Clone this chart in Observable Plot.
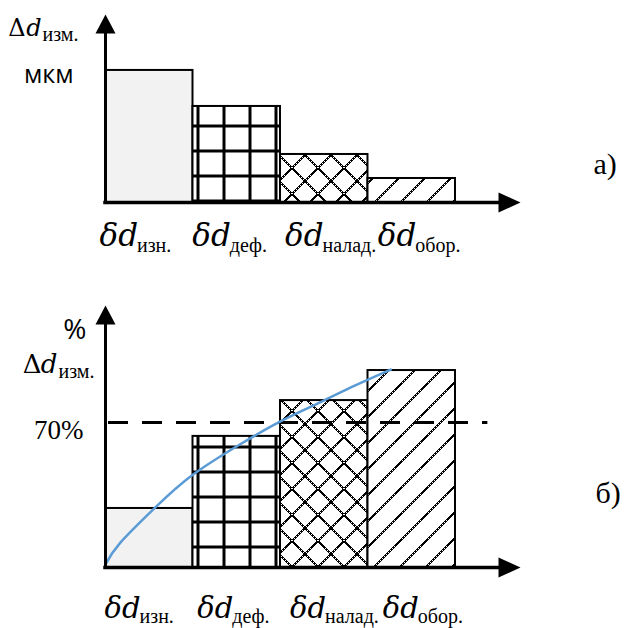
<!DOCTYPE html>
<html><head><meta charset="utf-8">
<script src="https://cdn.jsdelivr.net/npm/d3@7"></script>
<script src="https://cdn.jsdelivr.net/npm/@observablehq/plot@0.6"></script>
<style>
html,body{margin:0;padding:0;background:#fff;}
#chart svg{display:block;}
</style></head><body><div id="chart"></div>
<script>
// ---- data ----
const categories = ["изн.", "деф.", "налад.", "обор."];
const mainSymbol = "δd";
const valuesA = [5.5, 4, 2, 1];            // panel а), мкм (relative)
const valuesB = [28.5, 63.3, 80.6, 95.1];  // panel б), %
const curveX = [0, 0.17, 0.57, 0.99, 1.54, 2.0, 2.38, 2.77, 3.26];
const curveY = [1.5, 12, 29, 44.5, 59.5, 70.5, 78.3, 86.3, 95.6];
const thresholdB = 70;
const thresholdLabel = "70%";
const unitA = "мкм";
const unitB = "%";
const axisDelta = "Δ", axisD = "d", axisSub = "изм.";
const panelLabels = ["а)", "б)"];

const W = 626, xMax = 4.743;
const dataA = categories.map((c, i) => ({c, i, x1: i, x2: i + 1, v: valuesA[i]}));
const dataB = categories.map((c, i) => ({c, i, x1: i, x2: i + 1, v: valuesB[i]}));
const curve = curveX.map((x, i) => ({x, y: curveY[i]}));
const fillIds = ["gray", "grid", "cross", "diag"];

const MAIN_FONT = "DejaVu Serif", SUB_FONT = "Liberation Serif";
const SUB_SIZE = 20;
const labelSpread = 1.06; // category labels are spaced slightly wider than the bars
const mctx = document.createElement("canvas").getContext("2d");
function textW(s, font) { mctx.font = font; return mctx.measureText(s).width; }

const upTri = {draw(ctx) { ctx.moveTo(0, 0); ctx.lineTo(10, 19); ctx.lineTo(-10, 19); ctx.closePath(); }};
const rightTri = {draw(ctx) { ctx.moveTo(0, 0); ctx.lineTo(-22, -10); ctx.lineTo(-22, 10); ctx.closePath(); }};

function addPatterns(svg, s, gridY, crossY) {
  const defs = d3.select(svg).insert("defs", ":first-child");
  const pat = (id, w, h, x, y) => defs.append("pattern").attr("id", id + s)
    .attr("patternUnits", "userSpaceOnUse").attr("width", w).attr("height", h).attr("x", x).attr("y", y);
  const g0 = pat("gray", 10, 10, 0, 0);
  g0.append("rect").attr("width", 10).attr("height", 10).attr("fill", "#f2f2f2");
  const g = pat("grid", 26, 25, 14.5, gridY);
  g.append("rect").attr("width", 26).attr("height", 25).attr("fill", "#fff");
  g.append("rect").attr("width", 3).attr("height", 25).attr("fill", "#000");
  g.append("rect").attr("width", 26).attr("height", 3).attr("fill", "#000");
  const c = pat("cross", 26, 26, 6, crossY);
  c.append("rect").attr("width", 26).attr("height", 26).attr("fill", "#fff");
  c.append("path").attr("d", "M0,0L26,26M26,0L0,26").attr("stroke", "#000").attr("stroke-width", 2)
    .attr("stroke-dasharray", "2.2 0.6").attr("shape-rendering", "crispEdges");
  const d = pat("diag", 26, 26, 5, 0);
  d.append("rect").attr("width", 26).attr("height", 26).attr("fill", "#fff");
  d.append("path").attr("d", "M-2,2L2,-2M0,26L26,0M24,28L28,24").attr("stroke", "#000").attr("stroke-width", 2)
    .attr("stroke-dasharray", "2.2 0.6").attr("shape-rendering", "crispEdges");
}

function barMarks(data, s) {
  return data.map((d, i) => Plot.rect([d], {x1: "x1", x2: "x2", y1: 0, y2: "v",
    fill: `url(#${fillIds[i]}${s})`, stroke: "#000", strokeWidth: 2}));
}
// label = italic δd followed by an upright subscript
function xLabelMarks(data, mainSize, dyMain, dySub, shift) {
  const mainW = textW(mainSymbol, `italic ${mainSize}px "${MAIN_FONT}"`) - 1;
  return [
    Plot.text(data, {x: d => d.x1 * labelSpread, y: 0, text: () => mainSymbol, textAnchor: "start", lineAnchor: "bottom",
      dx: shift, dy: dyMain, fontFamily: MAIN_FONT, fontStyle: "italic", fontSize: mainSize, fill: "#000"}),
    Plot.text(data, {x: d => d.x1 * labelSpread, y: 0, text: "c", textAnchor: "start", lineAnchor: "bottom",
      dx: shift + mainW, dy: dySub, fontFamily: SUB_FONT, fontSize: SUB_SIZE, fill: "#000"})
  ];
}
function axisLabelMarks(split, base, subBase, size) {
  return [
    Plot.text([axisDelta], {frameAnchor: "top-left", textAnchor: "end", lineAnchor: "bottom", dx: split - 16, dy: base,
      fontFamily: MAIN_FONT, fontSize: size}),
    Plot.text([axisD], {frameAnchor: "top-left", textAnchor: "end", lineAnchor: "bottom", dx: split, dy: base,
      fontFamily: MAIN_FONT, fontStyle: "italic", fontSize: size}),
    Plot.text([axisSub], {frameAnchor: "top-left", textAnchor: "start", lineAnchor: "bottom", dx: split + 1, dy: subBase,
      fontFamily: SUB_FONT, fontSize: SUB_SIZE})
  ];
}

// ---- panel а) ----
const yMaxA = 7.83;
const plotA = Plot.plot({
  width: W, height: 260, marginLeft: 105, marginRight: 106, marginTop: 14, marginBottom: 58,
  x: {domain: [0, xMax], axis: null},
  y: {domain: [0, yMaxA], axis: null},
  marks: [
    ...barMarks(dataA, "a"),
    Plot.ruleX([0], {y1: 0, y2: yMaxA - 0.5, stroke: "#000", strokeWidth: 3}),
    Plot.ruleY([0], {x1: -0.02, x2: xMax - 0.2, stroke: "#000", strokeWidth: 3.5}),
    Plot.dot([{x: 0, y: yMaxA}], {x: "x", y: "y", symbol: upTri, fill: "#000", r: 5}),
    Plot.dot([{x: xMax, y: 0}], {x: "x", y: "y", symbol: rightTri, fill: "#000", r: 5}),
    ...xLabelMarks(dataA, 31, 43, 49, -6),
    ...axisLabelMarks(-64, 21, 26, 24),
    Plot.text([unitA], {frameAnchor: "top-left", textAnchor: "end", lineAnchor: "bottom", dx: -32, dy: 68,
      fontFamily: "Open Sans", fontSize: 25}),
    Plot.text([panelLabels[0]], {frameAnchor: "top-left", textAnchor: "start", lineAnchor: "bottom", dx: 488, dy: 159,
      fontFamily: "Liberation Serif", fontSize: 30})
  ]
});
addPatterns(plotA, "a", 24.5, 12);

// ---- panel б) ----
const yMaxB = 126.5;
const plotB = Plot.plot({
  width: W, height: 368, marginLeft: 105, marginRight: 106, marginTop: 45, marginBottom: 61,
  x: {domain: [0, xMax], axis: null},
  y: {domain: [0, yMaxB], axis: null},
  marks: [
    ...barMarks(dataB, "b"),
    Plot.ruleY([thresholdB], {x1: 0, x2: 4.37, stroke: "#000", strokeWidth: 3, strokeDasharray: "20 14", strokeDashoffset: -3}),
    Plot.line(curve, {x: "x", y: "y", curve: "natural", stroke: "#5b9bd5", strokeWidth: 2.5}),
    Plot.ruleX([0], {y1: 0, y2: yMaxB - 8, stroke: "#000", strokeWidth: 3}),
    Plot.ruleY([0], {x1: -0.02, x2: xMax - 0.2, stroke: "#000", strokeWidth: 3.5}),
    Plot.dot([{x: 0, y: yMaxB}], {x: "x", y: "y", symbol: upTri, fill: "#000", r: 5}),
    Plot.dot([{x: xMax, y: 0}], {x: "x", y: "y", symbol: rightTri, fill: "#000", r: 5}),
    ...xLabelMarks(dataB, 29, 50, 55, -1),
    ...axisLabelMarks(-48, 67, 72, 26),
    Plot.text([unitB], {frameAnchor: "top-left", textAnchor: "end", lineAnchor: "bottom", dx: -19, dy: 33,
      fontFamily: "Open Sans", fontSize: 28}),
    Plot.text([thresholdB], {x: 0, y: d => d, text: () => thresholdLabel, textAnchor: "end", lineAnchor: "bottom",
      dx: -22, dy: 16, fontFamily: "Liberation Serif", fontSize: 27}),
    Plot.text([panelLabels[1]], {frameAnchor: "top-left", textAnchor: "start", lineAnchor: "bottom", dx: 490, dy: 197,
      fontFamily: "Liberation Serif", fontSize: 30})
  ]
});
addPatterns(plotB, "b", 10.5, 21);

document.getElementById("chart").append(plotA, plotB);
</script></body></html>
